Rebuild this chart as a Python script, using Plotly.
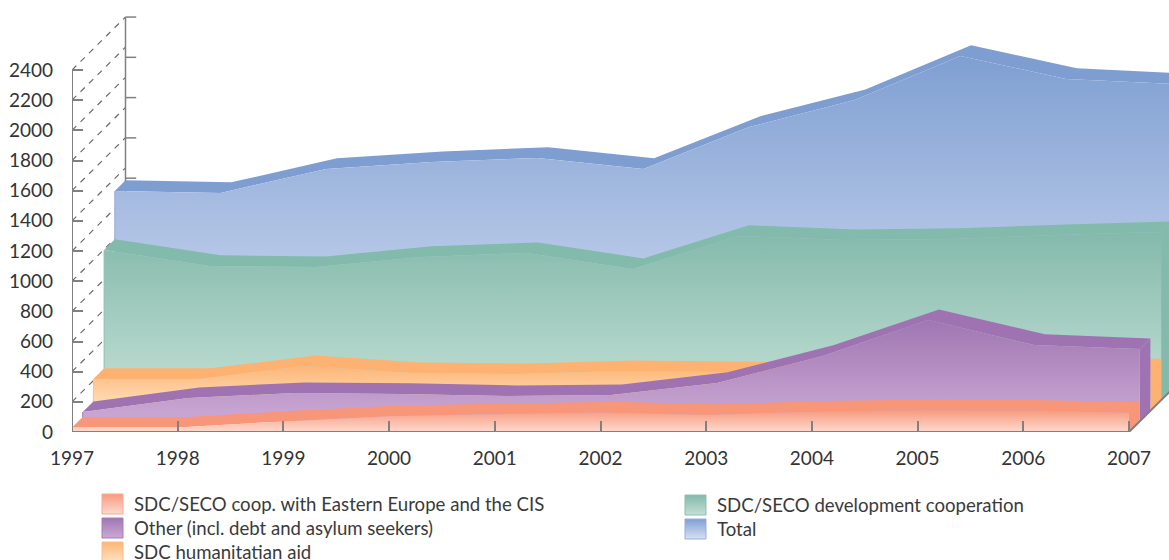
import plotly.graph_objects as go

years = [1997, 1998, 1999, 2000, 2001, 2002, 2003, 2004, 2005, 2006, 2007]
coop = [30, 30, 70, 105, 120, 130, 113, 135, 145, 142, 128]
other = [62, 155, 188, 182, 168, 175, 255, 434, 672, 507, 480]
humanitarian = [211, 211, 297, 250, 244, 264, 258, 250, 260, 270, 275]
development = [996, 890, 883, 950, 976, 870, 1089, 1062, 1069, 1095, 1115]
total = [1317, 1304, 1463, 1509, 1536, 1463, 1741, 1920, 2212, 2060, 2026]

names = ["SDC/SECO coop. with Eastern Europe and the CIS",
         "Other (incl. debt and asylum seekers)",
         "SDC humanitatian aid",
         "SDC/SECO development cooperation",
         "Total"]
series = [coop, other, humanitarian, development, total]
strip_colors = ["#F79679", "#9F73B2", "#FDB272", "#82BAAB", "#7E9ED2"]
light_colors = ["#FDDACE", "#CBA9D4", "#FFE3C4", "#C2DFD5", "#D8E1F4"]
dark_colors = ["#F79A7E", "#A076B2", "#FDB676", "#84BAAB", "#7F9FD2"]
swatch_edges = ["#F9A98F", "#A67CB8", "#FDBE86", "#8CC0B2", "#94ADDA"]

y_ticks = list(range(0, 2401, 200))
back_ticks = [1683, 1950, 2217, 2484, 2751]

W, H = 1169, 560
X0, X1 = 72, 1129       # page pixels of 1997 and 2007
Y0, YTOP = 432, 70      # page pixels of 0 and 2400
px_x = (X1 - X0) / 10
px_y = (Y0 - YTOP) / 2400
DX = 10.7 / px_x        # depth step, years
DY = 10.6 / px_y        # depth step, value units
x_max = 1997 + (W - X0) / px_x
y_max = Y0 / px_y
GREY = "#808080"
FONT = "Lato"

fig = go.Figure()

# Dashed depth lines on the left wall and back-wall axis
for v in y_ticks:
    fig.add_trace(go.Scatter(x=[1997, 1997 + 5 * DX], y=[v, v + 5 * DY], mode="lines",
                             line=dict(color="#6a6a6a", width=1.2, dash="6px,6px"),
                             hoverinfo="skip", showlegend=False))
bx = 1997 + 5 * DX
bar_x, bar_y = [bx, bx, None], [back_ticks[0] - 300, back_ticks[-1], None]
for v in back_ticks:
    bar_x += [bx, bx + DX, None]
    bar_y += [v, v, None]
fig.add_trace(go.Scatter(x=bar_x, y=bar_y, mode="lines", line=dict(color=GREY, width=1.5),
                         hoverinfo="skip", showlegend=False))

# Series from back to front
for i in range(4, -1, -1):
    vals = series[i]
    ox, oy = i * DX, i * DY
    fx = [y + ox for y in years]
    fy = [v + oy for v in vals]
    bx_ = [x + DX for x in fx]
    by_ = [y + DY for y in fy]
    # right side face
    fig.add_trace(go.Scatter(x=[fx[-1], bx_[-1], bx_[-1], fx[-1]],
                             y=[fy[-1], by_[-1], oy + DY, oy], mode="lines", fill="toself",
                             fillcolor=strip_colors[i], line=dict(width=0),
                             hoverinfo="skip", showlegend=False))
    # top strip
    fig.add_trace(go.Scatter(x=fx + bx_[::-1], y=fy + by_[::-1], mode="lines", fill="toself",
                             fillcolor=strip_colors[i], line=dict(width=0),
                             hoverinfo="skip", showlegend=False))
    # front face
    fig.add_trace(go.Scatter(x=[fx[0]] + fx + [fx[-1]], y=[oy] + fy + [oy], mode="lines",
                             fill="toself", line=dict(width=0), name=names[i],
                             fillgradient=dict(type="vertical",
                                               colorscale=[[0, light_colors[i]], [1, dark_colors[i]]],
                                               start=oy, stop=max(fy)),
                             showlegend=False))
    # thin left edge of the front face
    fig.add_trace(go.Scatter(x=[fx[0], fx[0]], y=[oy, fy[0]], mode="lines",
                             line=dict(color=swatch_edges[i], width=1),
                             hoverinfo="skip", showlegend=False))

# Axis lines and floor edge
fig.add_trace(go.Scatter(x=[1997, 1997], y=[0, 2400], mode="lines", line=dict(color=GREY, width=2),
                         hoverinfo="skip", showlegend=False))
fig.add_trace(go.Scatter(x=[1997, 2007, 2007 + 5 * DX], y=[0, 0, 5 * DY], mode="lines",
                         line=dict(color=GREY, width=2), hoverinfo="skip", showlegend=False))

# Legend drawn on a page-sized second subplot
legend_pos = [(102, 494), (102, 518), (102, 542), (685, 495), (685, 519)]
for i, (lx, ly) in enumerate(legend_pos):
    fig.add_trace(go.Scatter(x=[lx, lx + 21, lx + 21, lx, lx], y=[ly, ly, ly + 20, ly + 20, ly],
                             xaxis="x2", yaxis="y2", mode="lines", fill="toself",
                             line=dict(color=swatch_edges[i], width=1),
                             fillgradient=dict(type="vertical",
                                               colorscale=[[0, light_colors[i]], [1, dark_colors[i]]],
                                               start=ly + 20, stop=ly),
                             hoverinfo="skip", showlegend=False))
    fig.add_annotation(x=lx + 29.5, y=ly + 10, xref="x2", yref="y2", text=names[i], showarrow=False,
                       xanchor="left", yanchor="middle", font=dict(family=FONT, size=18.6, color="#3a3a3a"))

fig.update_layout(
    width=W, height=H, margin=dict(l=0, r=0, t=0, b=0),
    paper_bgcolor="white", plot_bgcolor="rgba(0,0,0,0)", showlegend=False,
    font=dict(family=FONT, color="#333333", size=19),
    xaxis=dict(domain=[X0 / W, 1], range=[1997, x_max], tickvals=years, ticks="inside", ticklen=11,
               tickwidth=1.5, tickcolor=GREY, showgrid=False, zeroline=False, showline=False,
               ticklabelstandoff=13, tickfont=dict(family=FONT, size=19, color="#333333"),
               anchor="y", automargin=False),
    yaxis=dict(domain=[(H - Y0) / H, 1], range=[0, y_max], tickvals=y_ticks, ticks="inside", ticklen=11,
               tickwidth=1.5, tickcolor=GREY, showgrid=False, zeroline=False, showline=False,
               ticklabelstandoff=18, tickfont=dict(family=FONT, size=19, color="#333333"),
               anchor="x", automargin=False),
    xaxis2=dict(domain=[0, 1], range=[0, W], visible=False, anchor="y2"),
    yaxis2=dict(domain=[0, 1], range=[H, 0], visible=False, anchor="x2"),
)

fig.write_html("out.html", config=dict(displayModeBar=False),
               post_script="document.body.style.margin='0';")
